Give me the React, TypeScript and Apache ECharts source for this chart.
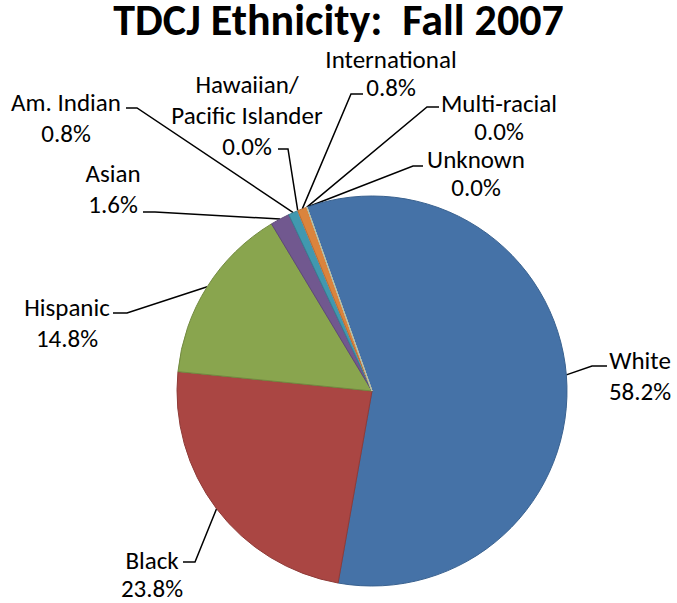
import React, { useEffect, useRef } from "react";
import * as echarts from "echarts";

const TITLE = "TDCJ Ethnicity:  Fall 2007";
const CATEGORIES = [
  "White",
  "Black",
  "Hispanic",
  "Asian",
  "Am. Indian",
  "Hawaiian/\nPacific Islander",
  "International",
  "Multi-racial",
  "Unknown",
];
const PERCENTS = [58.2, 23.8, 14.8, 1.6, 0.8, 0.0, 0.8, 0.0, 0.0];
const COLORS = ["#4572A7", "#AA4643", "#89A54E", "#71588F", "#4198AF", "#A9B9D6", "#DB843D", "#93A9CF", "#B9CD96"];
const BORDERS = ["#3A6290", "#8F3B38", "#728A40", "#5E4978", "#357F93", "#8FA0BF", "#B96F33", "#A7B3C4", "#B8C2A6"];

// label layout: text block centre (x, y), line end (ex, ey), elbow x offset (dx), line height (lh)
const LABEL_LAYOUT = [
  { x: 640, y: 376, ex: 607, ey: 366, dx: -15, lh: 31 },
  { x: 152, y: 574, ex: 183, ey: 562, dx: 12, lh: 28 },
  { x: 67, y: 323, ex: 113, ey: 313, dx: 14, lh: 31 },
  { x: 113, y: 189, ex: 143, ey: 212, dx: 12, lh: 31 },
  { x: 66, y: 118, ex: 126, ey: 108, dx: 11, lh: 31 },
  { x: 247, y: 115, ex: 278, ey: 149, dx: 10, lh: 31 },
  { x: 391, y: 73, ex: 363, ey: 94, dx: -12, lh: 28 },
  { x: 499, y: 117, ex: 439, ey: 107, dx: -12, lh: 28 },
  { x: 476, y: 173, ex: 423, ey: 166, dx: -10, lh: 28 },
];

const FONT = "Carlito, Lato, 'Open Sans', sans-serif";

export default function App() {
  const ref = useRef<HTMLDivElement>(null);
  useEffect(() => {
    if (!ref.current) return;
    const chart = echarts.init(ref.current, undefined, { renderer: "svg" });
    chart.setOption({
      animation: false,
      backgroundColor: "#ffffff",
      title: {
        text: TITLE,
        left: "center",
        top: 0,
        padding: 0,
        textStyle: { fontFamily: FONT, fontWeight: "bold", fontSize: 44, lineHeight: 40, color: "#000" },
      },
      series: [
        {
          type: "pie",
          center: [372, 391],
          radius: 195,
          startAngle: 109.5,
          clockwise: true,
          avoidLabelOverlap: false,
          minShowLabelAngle: 0,
          data: CATEGORIES.map((name, i) => ({
            name,
            value: PERCENTS[i],
            itemStyle: { color: COLORS[i], borderColor: BORDERS[i], borderWidth: 1 },
            label: { lineHeight: LABEL_LAYOUT[i].lh },
          })),
          label: {
            show: true,
            fontFamily: FONT,
            fontSize: 25,
            lineHeight: 31,
            color: "#000",
            align: "center",
            formatter: (p: any) => `${p.name}\n${Number(p.value).toFixed(1)}%`,
          },
          labelLine: { show: true, lineStyle: { color: "#000", width: 1.5 } },
          labelLayout: (params: any) => {
            const L = LABEL_LAYOUT[params.dataIndex];
            const p0 =
              params.labelLinePoints && params.labelLinePoints[0]
                ? params.labelLinePoints[0]
                : [L.ex + L.dx, L.ey];
            return {
              x: L.x,
              y: L.y,
              align: "center",
              verticalAlign: "middle",
              labelLinePoints: [p0, [L.ex + L.dx, L.ey], [L.ex, L.ey]],
            };
          },
        },
      ],
    });
    return () => chart.dispose();
  }, []);
  return (
    <div
      ref={ref}
      style={{ position: "fixed", left: 0, top: 0, width: 677, height: 603 }}
    />
  );
}
